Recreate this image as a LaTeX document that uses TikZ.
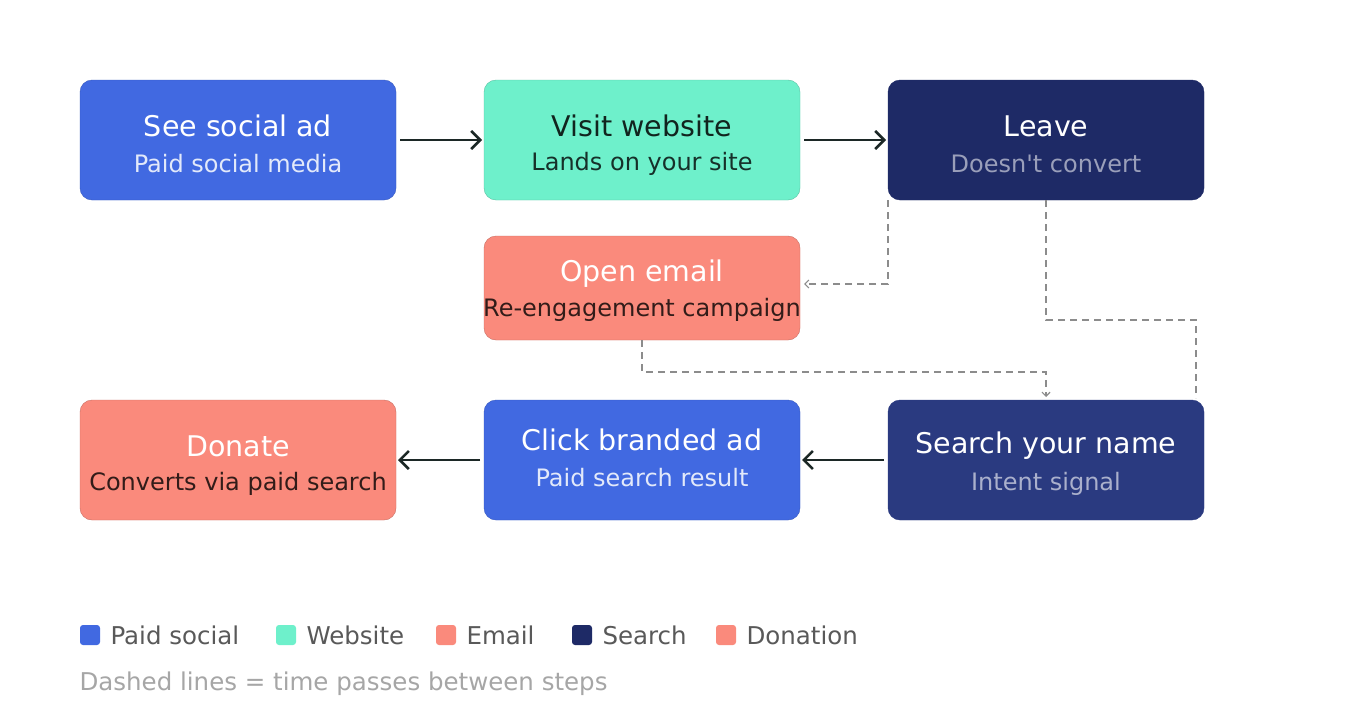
\documentclass[tikz,border=0pt]{standalone}
\usepackage{fontspec}
\setmainfont{DejaVu Sans}[Ligatures=TeXOff]
\usetikzlibrary{arrows.meta}
\definecolor{cblue}{HTML}{4169E1}
\definecolor{cteal}{HTML}{6EF0CB}
\definecolor{cnavy}{HTML}{1E2A66}
\definecolor{cnavyb}{HTML}{2A3A80}
\definecolor{csal}{HTML}{FA8A7C}
\definecolor{cdark}{HTML}{1C2826}
\begin{document}
\begin{tikzpicture}[x=1pt,y=-1pt,
 box/.style={rounded corners=12pt,minimum width=316pt,inner sep=0pt},
 tt/.style={font=\fontsize{28.5}{32}\selectfont},
 st/.style={font=\fontsize{24}{28}\selectfont},
 flow/.style={draw=cdark,line width=2.6pt,-{Straight Barb[length=9pt,width=18pt]}},
 dashln/.style={draw=black!45,line width=1.3pt,dash pattern=on 7pt off 5pt},
 lg/.style={font=\fontsize{24.5}{28}\selectfont,text=black!65,anchor=west}]
\useasboundingbox (0,0) rectangle (1360,720);
\fill[white] (0,0) rectangle (1360,720);
% boxes
\filldraw[fill=cblue,draw=cblue!85!black,rounded corners=12pt] (80,80) rectangle (396,200);
\node[box] (a) at (238,140) {};
\filldraw[fill=cteal,draw=cteal!80!black,rounded corners=12pt] (484,80) rectangle (800,200);
\node[box] (b) at (642,140) {};
\filldraw[fill=cnavy,draw=cnavy,rounded corners=12pt] (888,80) rectangle (1204,200);
\node[box] (c) at (1046,140) {};
\filldraw[fill=csal,draw=csal!80!black,rounded corners=12pt] (484,236) rectangle (800,340);
\node[box] (d) at (642,288) {};
\filldraw[fill=csal,draw=csal!80!black,rounded corners=12pt] (80,400) rectangle (396,520);
\node[box] (e) at (238,460) {};
\filldraw[fill=cblue,draw=cblue!85!black,rounded corners=12pt] (484,400) rectangle (800,520);
\node[box] (f) at (642,460) {};
\filldraw[fill=cnavyb,draw=cnavyb,rounded corners=12pt] (888,400) rectangle (1204,520);
\node[box] (g) at (1046,460) {};
% texts
\node[tt,text=white] (at) at (238,126) {See social ad};
\node[st,text=white!85!cblue] (as) at (238,164) {Paid social media};
\node[tt,text=black!85!cteal] (bt) at (642,126) {Visit website};
\node[st,text=black!80!cteal] (bs) at (642,164) {Lands on your site};
\node[tt,text=white] (ct) at (1046,126) {Leave};
\node[st,text=white!55!cnavy] (cs) at (1046,164) {Doesn't convert};
\node[tt,text=white] (dt) at (642,274) {Open email};
\node[st,text=black!80!csal] (ds) at (642,310) {Re-engagement campaign};
\node[tt,text=white] (et) at (238,446) {Donate};
\node[st,text=black!80!csal] (es) at (238,484) {Converts via paid search};
\node[tt,text=white] (ft) at (642,440) {Click branded ad};
\node[st,text=white!85!cblue] (fs) at (642,478) {Paid search result};
\node[tt,text=white] (gt) at (1046,446) {Search your name};
\node[st,text=white!60!cnavyb] (gs) at (1046,484) {Intent signal};
% flows
\draw[flow] (400,140) -- (482,140);
\draw[flow] (804,140) -- (886,140);
\draw[flow] (884,460) -- (802,460);
\draw[flow] (480,460) -- (398,460);
% dashed
\coordinate (c1) at (888,200);
\coordinate (d1) at (804,284);
\draw[dashln,-{Straight Barb[length=4pt,width=8pt,line width=1.2pt]}] (c1) -- (888,284) -- (d1);
\coordinate (c2) at (1046,200);
\coordinate (g1) at (1196,398);
\draw[dashln] (c2) -- (1046,320) -- (1196,320) -- (g1);
\coordinate (d2) at (642,340);
\coordinate (g2) at (1046,397);
\draw[dashln,-{Straight Barb[length=4pt,width=8pt,line width=1.2pt]}] (d2) -- (642,372) -- (1046,372) -- (g2);
% legend
\foreach \x/\c/\t/\n in {80/cblue/Paid social/l1,276/cteal/Website/l2,436/csal/Email/l3,572/cnavy/Search/l4,716/csal/Donation/l5}{
 \fill[\c,rounded corners=3pt] (\x,625) rectangle (\x+20,645);
 \node[lg] (\n) at (\x+27,635) {\t};
}
\node[lg,text=black!35] (foot) at (76,684) {Dashed lines = time passes between steps};
\end{tikzpicture}
\end{document}
